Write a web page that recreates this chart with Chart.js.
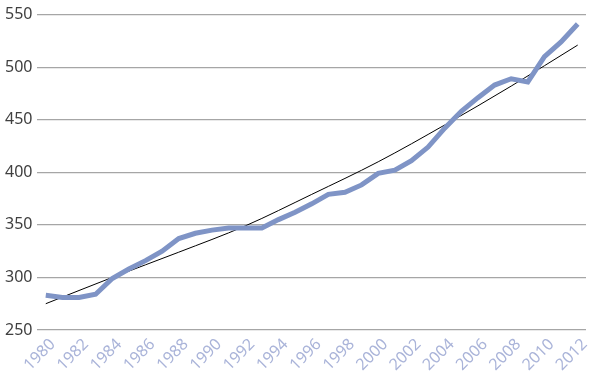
<!DOCTYPE html>
<html>
<head>
<meta charset="utf-8">
<script src="https://cdn.jsdelivr.net/npm/chart.js@4.4.1/dist/chart.umd.min.js"></script>
<style>
  html, body { margin: 0; padding: 0; background: #fff; }
  #wrap { width: 600px; height: 385px; }
</style>
</head>
<body>
<div id="wrap"><canvas id="lineChart"></canvas></div>
<script>
var years = [];
for (var y = 1980; y <= 2012; y++) years.push(String(y));

var values = [283, 281, 281, 284, 299, 308, 316, 325, 337, 342, 345, 347, 347, 347, 355, 362, 370, 379, 381, 388, 399, 402, 411, 424, 442, 458, 471, 483, 489, 486, 510, 524, 541];

// trend curve, every four years
var trendYears = ['1980', '1984', '1988', '1992', '1996', '2000', '2004', '2008', '2012'];
var trendValues = [275, 300, 324, 349, 379, 410, 445, 482, 521];

var yTicks = [250, 300, 350, 400, 450, 500, 550];

var ctx = document.getElementById('lineChart').getContext('2d');
var lineChart = new Chart(ctx, {
    type: 'line',
    data: {
        labels: years,
        datasets: [{
            data: values,
            borderColor: '#7f94c6',
            borderWidth: 5,
            pointRadius: 0,
            tension: 0,
            fill: false
        }, {
            data: trendYears.map(function (t, i) { return { x: t, y: trendValues[i] }; }),
            borderColor: '#000000',
            borderWidth: 1,
            pointRadius: 0,
            cubicInterpolationMode: 'monotone',
            fill: false
        }]
    },
    options: {
        responsive: true,
        maintainAspectRatio: false,
        animation: false,
        layout: { padding: { top: 1, right: 14, left: 0, bottom: 0 } },
        plugins: {
            legend: { display: false },
            tooltip: { enabled: false }
        },
        scales: {
            x: {
                offset: true,
                grid: { display: false },
                border: { display: false },
                afterFit: function (scale) { scale.height = 55; },
                ticks: {
                    autoSkip: false,
                    minRotation: 45,
                    maxRotation: 45,
                    color: '#aab4d9',
                    padding: -3,
                    labelOffset: 7,
                    font: { family: 'Noto Sans', size: 16 },
                    callback: function (val, i) { return i % 2 === 0 ? years[i] : ''; }
                }
            },
            y: {
                min: yTicks[0],
                max: yTicks[yTicks.length - 1],
                border: { display: false },
                grid: { color: '#a6a6a6', lineWidth: 1.2, drawTicks: false },
                ticks: {
                    stepSize: 50,
                    color: '#404040',
                    padding: 5,
                    font: { family: 'Noto Sans', size: 16 }
                }
            }
        }
    }
});
</script>
</body>
</html>
